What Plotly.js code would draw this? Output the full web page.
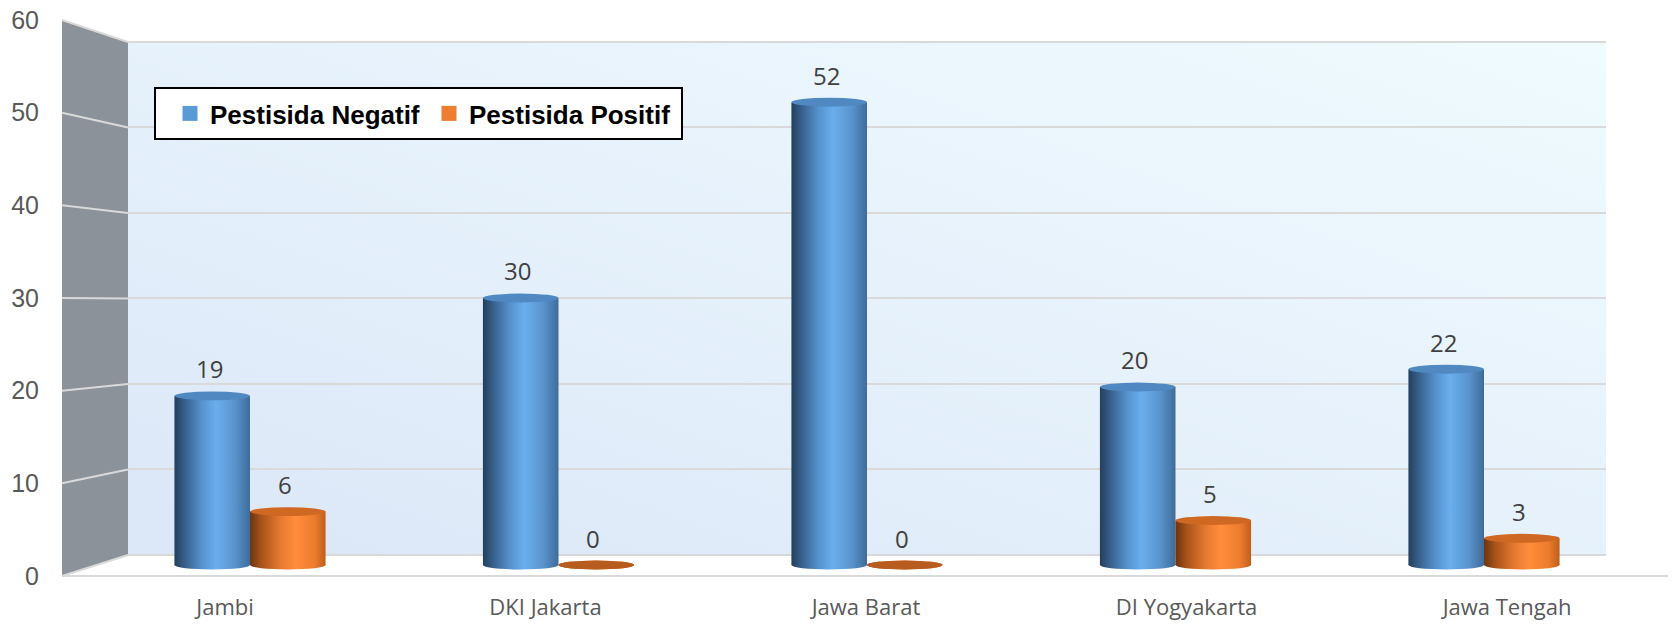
<!DOCTYPE html>
<html><head><meta charset="utf-8">
<script src="https://cdn.plot.ly/plotly-3.0.1.min.js"></script>
<style>html,body{margin:0;padding:0;background:#fff}#chart{width:1672px;height:624px}</style>
</head><body><div id="chart"></div>
<script>
const categories = ['Jambi', 'DKI Jakarta', 'Jawa Barat', 'DI Yogyakarta', 'Jawa Tengah'];
const negatif = [19, 30, 52, 20, 22];
const positif = [6, 0, 0, 5, 3];
const seriesNames = ['Pestisida Negatif', 'Pestisida Positif'];
const yTicks = [0, 10, 20, 30, 40, 50, 60];

// ---- geometry (pixels) ----
const W = 1672, H = 624, ML = 42, MR = 0, MT = 20, MB = 48;
const PW = W - ML - MR, PH = H - MT - MB;
const fx = px => (px - ML) / PW;
const fy = py => (H - MB - py) / PH;

const K = 8.9, Z = 565, YMIN = -1.2, YMAX = 60.5;           // bar frame
const barYDomain = [fy(Z - YMIN * K), fy(Z - YMAX * K)];
const barXDomain = [fx(250 - 308.5 / 2), fx(1484 + 308.5 / 2)];
const lblXDomain = [fx(225 - 320.5 / 2), fx(1507 + 320.5 / 2)];
const wall = {x0: 128, x1: 1606, y0: 555, y1: 42};
const WS = (wall.y0 - wall.y1) / 60, WPAD = 0.15;
const side = {x: 62, y0: 576, y1: 20};
const BWID = 0.245, EH = 0.5;
const legendBox = {x0: 155, x1: 682, y0: 88, y1: 139};

const blue = '#5b9bd5', orange = '#ed7d31';
const numFont = {family: "'Open Sans', 'Noto Sans', sans-serif", size: 24, color: '#404040'};

const traces = [
  {type: 'scatter', x: [], y: [], xaxis: 'x', yaxis: 'y', showlegend: false, hoverinfo: 'skip'},
  {type: 'bar', name: seriesNames[0], x: categories, y: negatif, xaxis: 'x2', yaxis: 'y2',
   width: BWID, offset: -BWID, marker: {color: blue, line: {width: 0}}, hoverinfo: 'skip'},
  {type: 'bar', name: seriesNames[1], x: categories, y: positif, xaxis: 'x2', yaxis: 'y2',
   width: BWID, offset: 0, marker: {color: orange, line: {width: 0}}, hoverinfo: 'skip'},
  {type: 'scatter', x: [], y: [], xaxis: 'x3', yaxis: 'y3', showlegend: false, hoverinfo: 'skip'}
];

const shapes = [];
// side wall
shapes.push({type: 'path', xref: 'paper', yref: 'paper', layer: 'below',
  path: `M${fx(side.x)},${fy(side.y1)} L${fx(wall.x0)},${fy(wall.y1)} L${fx(wall.x0)},${fy(wall.y0)} L${fx(side.x)},${fy(side.y0)} Z`,
  fillcolor: '#8b9299', line: {width: 0}});
// side wall gridlines
yTicks.forEach(v => {
  const yf = side.y0 - v * (side.y0 - side.y1) / 60;
  const yb = wall.y0 - v * WS;
  shapes.push({type: 'line', xref: 'paper', yref: 'paper', layer: 'below',
    x0: fx(side.x), y0: fy(yf), x1: fx(wall.x0), y1: fy(yb), line: {color: '#d9d9d9', width: 2}});
});
// front floor edge
shapes.push({type: 'line', xref: 'paper', yref: 'paper', layer: 'below',
  x0: fx(side.x), x1: fx(1668), y0: fy(side.y0), y1: fy(side.y0), line: {color: '#d9d9d9', width: 2}});
// legend frame
shapes.push({type: 'rect', xref: 'paper', yref: 'paper', layer: 'above',
  x0: fx(legendBox.x0), x1: fx(legendBox.x1), y0: fy(legendBox.y1), y1: fy(legendBox.y0),
  fillcolor: '#ffffff', line: {color: '#000000', width: 2}});

// cylinder ends
[negatif, positif].forEach((vals, s) => {
  vals.forEach((v, i) => {
    const x0 = s === 0 ? i - BWID : i, x1 = s === 0 ? i : i + BWID;
    shapes.push({type: 'circle', xref: 'x2', yref: 'y2', layer: 'above', x0, x1, y0: -EH, y1: EH,
      fillcolor: s === 0 ? 'rgb(1,2,3)' : 'rgb(3,2,1)', line: {width: 0}});
    shapes.push({type: 'circle', xref: 'x2', yref: 'y2', layer: 'above', x0, x1, y0: v - EH, y1: v + EH,
      fillcolor: s === 0 ? '#5089c2' : (v === 0 ? '#b85b1f' : '#cf6823'), line: {width: 0}});
  });
});

const annotations = [];
[negatif, positif].forEach((vals, s) => {
  vals.forEach((v, i) => {
    annotations.push({xref: 'x2', yref: 'y2', x: s === 0 ? i - BWID / 2 : i + BWID / 2, y: v,
      text: String(v), showarrow: false, yshift: 27, xshift: -3, font: numFont});
  });
});

const wallSvg = "<svg xmlns='http://www.w3.org/2000/svg' width='100' height='100' preserveAspectRatio='none'>" +
  "<defs><linearGradient id='g' x1='0' y1='1' x2='1' y2='0'><stop offset='0' stop-color='#dbe7f7'/>" +
  "<stop offset='1' stop-color='#f0fbff'/></linearGradient></defs><rect width='100' height='100' fill='url(#g)'/></svg>";

const layout = {
  width: W, height: H, margin: {l: ML, r: MR, t: MT, b: MB},
  paper_bgcolor: '#ffffff', plot_bgcolor: 'rgba(0,0,0,0)',
  showlegend: true, barmode: 'overlay',
  // back wall grid
  xaxis: {domain: [fx(wall.x0), fx(wall.x1)], range: [0, 1], anchor: 'y', showticklabels: false,
          showgrid: false, zeroline: false, showline: false, ticks: ''},
  yaxis: {domain: [fy(wall.y0 + WPAD * WS), fy(wall.y1 - WPAD * WS)], range: [-WPAD, 60 + WPAD], anchor: 'x',
          tickvals: yTicks, showticklabels: false, showgrid: true, gridcolor: '#d9d9d9', gridwidth: 2,
          zeroline: false, ticks: ''},
  // bars
  xaxis2: {domain: barXDomain, type: 'category', range: [-0.5, 4.5], anchor: 'y2', showticklabels: false,
           showgrid: false, zeroline: false, showline: false, ticks: ''},
  yaxis2: {domain: barYDomain, range: [YMIN, YMAX], anchor: 'x2', showticklabels: false,
           showgrid: false, zeroline: false, showline: false, ticks: ''},
  // front labels
  xaxis3: {domain: lblXDomain, range: [-0.5, 4.5], anchor: 'y3', tickvals: categories.map((c, i) => i),
           ticktext: categories, showgrid: false, zeroline: false, showline: false, ticks: '', ticklabelstandoff: 16,
           tickfont: {family: "'Open Sans', 'Noto Sans', sans-serif", size: 22, color: '#595959'}},
  yaxis3: {domain: [fy(side.y0), fy(side.y1)], range: [0, 60], anchor: 'free', position: 0, tickvals: yTicks,
           showgrid: false, zeroline: false, showline: false, ticks: '', ticklabelstandoff: 3,
           tickfont: {family: "'Liberation Sans', Arial, sans-serif", size: 25, color: '#595959'}},
  legend: {orientation: 'h', x: fx(170), y: fy((legendBox.y0 + legendBox.y1) / 2), xanchor: 'left', yanchor: 'middle',
           bgcolor: 'rgba(0,0,0,0)', borderwidth: 0, entrywidth: 214,
           font: {family: "'Liberation Sans Narrow', 'Arial Narrow', 'Liberation Sans', sans-serif", size: 26, weight: 'bold', color: '#000000'}},
  shapes, annotations,
  images: [{source: 'data:image/svg+xml;charset=utf-8,' + encodeURIComponent(wallSvg),
            xref: 'paper', yref: 'paper', x: fx(wall.x0), y: fy(wall.y1),
            sizex: fx(wall.x1) - fx(wall.x0), sizey: fy(wall.y1) - fy(wall.y0),
            xanchor: 'left', yanchor: 'top', sizing: 'stretch', layer: 'below'}]
};

function addGradient(svg, id, stops) {
  const ns = 'http://www.w3.org/2000/svg';
  let defs = svg.querySelector('defs');
  if (!defs) { defs = document.createElementNS(ns, 'defs'); svg.insertBefore(defs, svg.firstChild); }
  const g = document.createElementNS(ns, 'linearGradient');
  g.setAttribute('id', id); g.setAttribute('x1', '0'); g.setAttribute('y1', '0');
  g.setAttribute('x2', '1'); g.setAttribute('y2', '0');
  stops.forEach(([o, c]) => {
    const s = document.createElementNS(ns, 'stop');
    s.setAttribute('offset', o); s.setAttribute('stop-color', c); g.appendChild(s);
  });
  defs.appendChild(g);
}

const gd = document.getElementById('chart');
Plotly.newPlot(gd, traces, layout, {displayModeBar: false, staticPlot: true}).then(() => {
  const svg = gd.querySelector('svg.main-svg');
  addGradient(svg, 'gBlue', [[0, '#243f5c'], [0.12, '#355c86'], [0.35, '#5490cc'], [0.55, '#6aaeee'], [0.8, '#5a93cc'], [1, '#3e6c9b']]);
  addGradient(svg, 'gOrange', [[0, '#6b3410'], [0.15, '#a8531a'], [0.4, '#e67930'], [0.6, '#ff8d3b'], [0.85, '#ee7c2e'], [1, '#be5f1c']]);
  gd.querySelectorAll('.barlayer .trace.bars').forEach((t, k) => {
    t.querySelectorAll('path').forEach(p => { p.style.fill = k === 0 ? 'url(#gBlue)' : 'url(#gOrange)'; });
  });
  gd.querySelectorAll('path').forEach(p => {
    const f = (p.style.fill || '').replace(/\s/g, '');
    if (f === 'rgb(1,2,3)') p.style.fill = 'url(#gBlue)';
    if (f === 'rgb(3,2,1)') p.style.fill = 'url(#gOrange)';
  });
  gd.querySelectorAll('.legend .legendpoints path').forEach(p => {
    p.setAttribute('d', 'M7.5,7.5H-7.5V-7.5H7.5Z');
  });
});
</script>
</body></html>
